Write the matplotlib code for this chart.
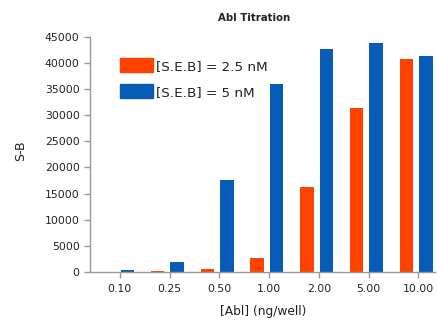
import numpy as np
import matplotlib.pyplot as plt
from matplotlib.patches import Patch

# Data
doses = ['0.10', '0.25', '0.50', '1.00', '2.00', '5.00', '10.00']
seb_25 = [0, 200, 600, 2700, 16300, 31300, 40800]
seb_5 = [450, 1800, 17600, 35900, 42600, 43800, 41400]

orange = '#ff4200'
blue = '#075cb8'
grey = '#999999'
txt = '#222222'

fig = plt.figure(figsize=(4.37, 3.21), dpi=100)
ax = fig.add_axes([0.206, 0.153, 0.79, 0.732])

x = np.arange(len(doses))
w = 0.27
ax.bar(x - 0.24, seb_25, w, color=orange)
ax.bar(x + 0.15, seb_5, w, color=blue)

ax.set_xlim(-0.6, 6.34)
ax.set_ylim(0, 45000)
ax.set_yticks(np.arange(0, 45001, 5000))
ax.set_xticks(x)
ax.set_xticklabels(doses)

for s in ['top', 'right']:
    ax.spines[s].set_visible(False)
for s in ['left', 'bottom']:
    ax.spines[s].set_color(grey)
    ax.spines[s].set_linewidth(1.0)
ax.tick_params(colors=grey, labelcolor=txt, labelsize=7.8, length=4, width=1)
ax.tick_params(axis='x', pad=5)

fig.text(0.582, 0.945, 'Abl Titration', ha='center', va='center',
         fontsize=7.3, fontweight='bold', color=txt)
fig.text(0.602, 0.03, '[Abl] (ng/well)', ha='center', va='center',
         fontsize=8.8, color=txt)
fig.text(0.048, 0.53, 'S-B', ha='center', va='center', rotation=90,
         fontsize=9, color=txt)

handles = [Patch(color=orange, label='[S.E.B] = 2.5 nM'),
           Patch(color=blue, label='[S.E.B] = 5 nM')]
ax.legend(handles=handles, loc='upper left', bbox_to_anchor=(0.087, 0.91),
          frameon=False, fontsize=9.7, handlelength=2.45, handleheight=1.25,
          handletextpad=0.2, labelspacing=0.85, labelcolor=txt,
          borderpad=0, borderaxespad=0)

fig.savefig('out.png', dpi=100)
